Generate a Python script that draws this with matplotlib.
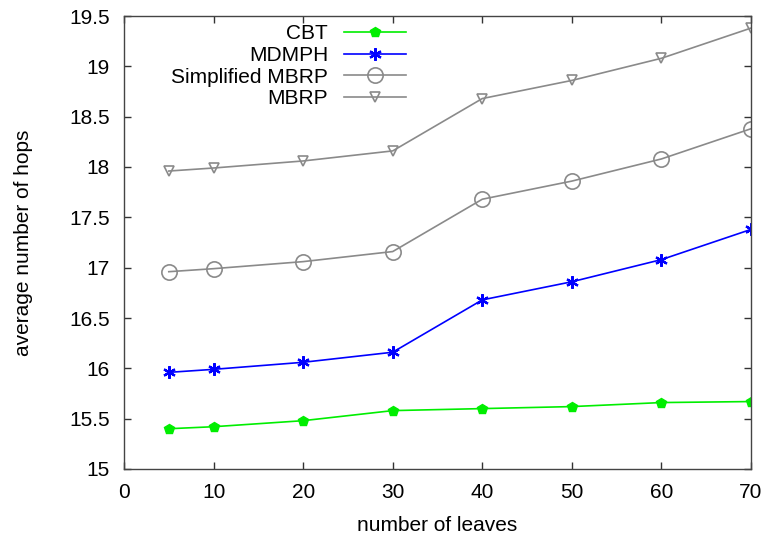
import numpy as np
import matplotlib
matplotlib.use("Agg")
import matplotlib.pyplot as plt
from matplotlib.ticker import FuncFormatter

plt.rcParams['font.family'] = ['Liberation Sans', 'DejaVu Sans']

# number of leaves
leaves = [5, 10, 20, 30, 40, 50, 60, 70]

# average number of hops per scheme
cbt = [15.40, 15.42, 15.48, 15.58, 15.60, 15.62, 15.66, 15.67]
mdmph = [15.96, 15.99, 16.06, 16.16, 16.68, 16.86, 17.08, 17.38]
simplified_mbrp = [16.96, 16.99, 17.06, 17.16, 17.68, 17.86, 18.08, 18.38]
mbrp = [17.96, 17.99, 18.06, 18.16, 18.68, 18.86, 19.08, 19.38]

xticks = [0, 10, 20, 30, 40, 50, 60, 70]
yticks = [15, 15.5, 16, 16.5, 17, 17.5, 18, 18.5, 19, 19.5]

fig = plt.figure(figsize=(7.68, 5.35), dpi=100)
ax = fig.add_axes([124/768, 1-469/535, (751-124)/768, (469-16)/535])

gray = '#8a8a8a'
fs = 15
ax.plot(leaves, cbt, color='#00ee00', lw=1.2, marker='p', ms=7.5,
        mec='#00ee00', mfc='#00ee00', label='CBT')
ax.plot(leaves, mdmph, color='#0000ff', lw=1.2, marker=(6, 2, 0), ms=9,
        mew=1.6, mec='#0000ff', label='MDMPH')
ax.plot(leaves, simplified_mbrp, color=gray, lw=1.2, marker='o', ms=11,
        mfc='none', mec=gray, mew=1.2, label='Simplified MBRP')
ax.plot(leaves, mbrp, color=gray, lw=1.2, marker='v', ms=7.5,
        mfc='none', mec=gray, mew=1.2, label='MBRP')

ax.set_xlim(0, 70)
ax.set_ylim(15, 19.5)
ax.set_xticks(xticks)
ax.set_yticks(yticks)
ax.yaxis.set_major_formatter(FuncFormatter(lambda v, p: '%g' % v))

for s in ax.spines.values():
    s.set_color('#444444')
    s.set_linewidth(1.0)
ax.tick_params(direction='in', length=5, width=1.0, color='#333333',
               top=True, right=True, labelsize=fs, pad=10)

ax.set_xlabel('number of leaves', fontsize=fs, labelpad=10)
ax.set_ylabel('average number of hops', fontsize=fs, labelpad=26)

leg = ax.legend(loc='upper right', bbox_to_anchor=(0.45, 0.982),
                frameon=False, markerfirst=False, fontsize=fs,
                handlelength=3.0, handletextpad=0.75, labelspacing=0.13,
                borderpad=0, borderaxespad=0, numpoints=1)

fig.savefig('out.png', dpi=100)
